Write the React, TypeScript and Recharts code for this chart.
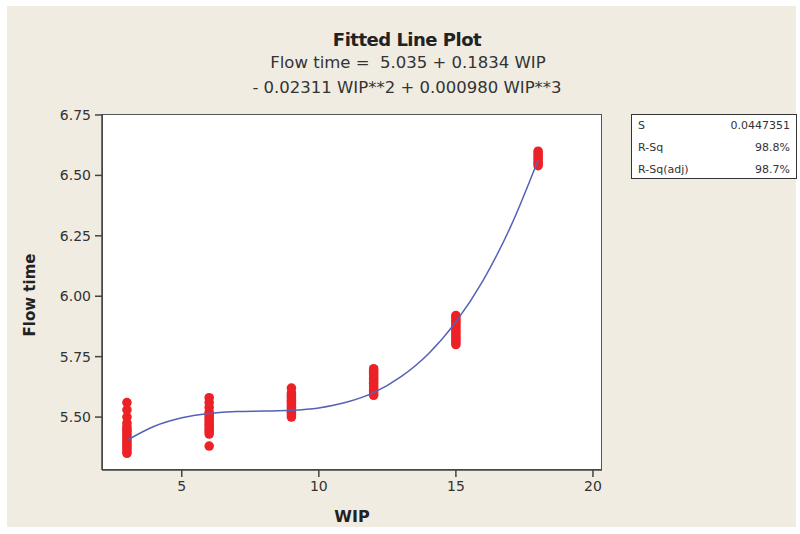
import React from "react";
import { ScatterChart, Scatter, XAxis, YAxis } from "recharts";

// observed WIP levels and the flow times read for each
const wipLevels = [3, 6, 9, 12, 15, 18];
const flow3 = [5.56, 5.53, 5.5, 5.475, 5.46, 5.45, 5.44, 5.43, 5.42, 5.41, 5.4, 5.39, 5.38, 5.37, 5.36, 5.35];
const flow6 = [5.58, 5.56, 5.54, 5.52, 5.51, 5.5, 5.49, 5.48, 5.47, 5.46, 5.45, 5.44, 5.43, 5.38];
const flow9 = [5.62, 5.6, 5.59, 5.58, 5.57, 5.56, 5.55, 5.54, 5.53, 5.52, 5.51, 5.5];
const flow12 = [5.7, 5.69, 5.68, 5.67, 5.66, 5.65, 5.64, 5.63, 5.62, 5.61, 5.6, 5.59];
const flow15 = [5.92, 5.91, 5.9, 5.89, 5.88, 5.87, 5.86, 5.85, 5.84, 5.83, 5.82, 5.81, 5.8];
const flow18 = [6.6, 6.59, 6.58, 6.57, 6.56, 6.55, 6.54];
const flowGroups = [flow3, flow6, flow9, flow12, flow15, flow18];

// fitted cubic, read at each whole WIP value
const fitWip = [3, 4, 5, 6, 7, 8, 9, 10, 11, 12, 13, 14, 15, 16, 17, 18];
const fitFlow = [5.404, 5.462, 5.497, 5.515, 5.523, 5.525, 5.528, 5.538, 5.561, 5.601, 5.667, 5.762, 5.894, 6.067, 6.289, 6.564];

const xTicks = [5, 10, 15, 20];
const yTicks = [5.5, 5.75, 6.0, 6.25, 6.5, 6.75];

const statLabels = ["S", "R-Sq", "R-Sq(adj)"];
const statValues = ["0.0447351", "98.8%", "98.7%"];

const points = wipLevels.flatMap((w, i) => flowGroups[i].map((f) => ({ wip: w, flow: f })));
const fitLine = fitWip.map((w, i) => ({ wip: w, flow: fitFlow[i] }));

const font = "'DejaVu Sans', sans-serif";

export default function App() {
  return (
    <div style={{ position: "absolute", left: 0, top: 0, width: 800, height: 534, background: "#fff" }}>
      <div style={{ position: "absolute", left: 7, top: 6, width: 789, height: 521, background: "#f0ece2" }} />
      <div
        style={{
          position: "absolute",
          left: 102,
          top: 114,
          width: 500,
          height: 356,
          boxSizing: "border-box",
          border: "1px solid #555",
          background: "#fff",
        }}
      />
      <div style={{ position: "absolute", left: 0, top: 0 }}>
        <ScatterChart width={800} height={534} margin={{ top: 114, right: 198, bottom: 34, left: 42 }}>
          <XAxis
            type="number"
            dataKey="wip"
            domain={[2.09, 20.33]}
            ticks={xTicks}
            height={30}
            tickSize={7}
            tickMargin={4}
            stroke="#444"
            strokeWidth={1.5}
            tick={{ fill: "#333", fontSize: 14, fontFamily: font }}
          />
          <YAxis
            type="number"
            dataKey="flow"
            domain={[5.281, 6.754]}
            ticks={yTicks}
            width={60}
            tickSize={7}
            tickMargin={4}
            stroke="#444"
            strokeWidth={1.5}
            tickFormatter={(v: number) => v.toFixed(2)}
            tick={{ fill: "#333", fontSize: 14, fontFamily: font }}
          />
          <Scatter data={points} fill="#ec2227" isAnimationActive={false}
            shape={(p: any) => <circle cx={p.cx} cy={p.cy} r={4.8} fill="#ec2227" />} />
          <Scatter
            data={fitLine}
            line={{ stroke: "#5462b6", strokeWidth: 1.5 }}
            lineJointType="monotoneX"
            shape={() => <g />}
            isAnimationActive={false}
          />
        </ScatterChart>
      </div>
      <svg width={800} height={534} style={{ position: "absolute", left: 0, top: 0, pointerEvents: "none", whiteSpace: "pre" }}>
        <text x={407} y={46} textAnchor="middle" fontFamily={font} fontWeight="bold" fontSize={18} letterSpacing={-0.5} fill="#222">
          Fitted Line Plot
        </text>
        <text x={408} y={68} textAnchor="middle" fontFamily={font} fontSize={16.5} fill="#333" xmlSpace="preserve">
          {"Flow time =  5.035 + 0.1834 WIP"}
        </text>
        <text x={407} y={93} textAnchor="middle" fontFamily={font} fontSize={16.5} fill="#333">
          - 0.02311 WIP**2 + 0.000980 WIP**3
        </text>
        <text x={352} y={522} textAnchor="middle" fontFamily={font} fontWeight="bold" fontSize={16} fill="#222">
          WIP
        </text>
        <text
          x={35}
          y={295}
          textAnchor="middle"
          transform="rotate(-90 35 295)"
          fontFamily={font}
          fontWeight="bold"
          fontSize={15}
          fill="#222"
        >
          Flow time
        </text>
        <rect x={631.5} y={114.5} width={165} height={64} fill="#fff" stroke="#333" strokeWidth={1} />
        {statLabels.map((s, i) => (
          <g key={s}>
            <text x={638} y={129 + i * 22} fontFamily={font} fontSize={11} fill="#333">
              {s}
            </text>
            <text x={790} y={129 + i * 22} textAnchor="end" fontFamily={font} fontSize={11} fill="#333">
              {statValues[i]}
            </text>
          </g>
        ))}
      </svg>
    </div>
  );
}
